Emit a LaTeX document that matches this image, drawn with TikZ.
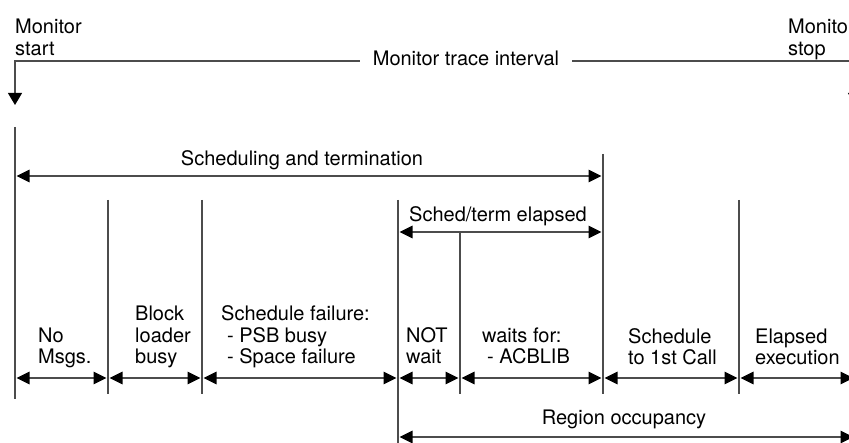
\documentclass[tikz,border=0pt]{standalone}
\usepackage{fontspec}
\setmainfont{TeX Gyre Heros}
\usetikzlibrary{arrows.meta}

\tikzset{
  rule/.style={draw=black!70, line width=1.1pt},
  dim/.style={rule, shorten <=1.5pt, shorten >=1.5pt,
    {Triangle[length=13pt,width=12.5pt,color=black]}-{Triangle[length=13pt,width=12.5pt,color=black]}},
  down/.style={rule, -{Triangle[length=12pt,width=14pt,color=black]}},
  lbl/.style={inner sep=0pt, align=left, anchor=base west, font=\fontsize{20}{21.5}\selectfont},
  ttl/.style={inner sep=0pt, anchor=base, font=\fontsize{20}{21.5}\selectfont},
}

\begin{document}
\begin{tikzpicture}[x=1pt,y=-1pt]
  \useasboundingbox (0,0) rectangle (849,443);

  \coordinate (start) at (15,61);
  \coordinate (startend) at (15,105);
  \coordinate (stop) at (855,61);
  \coordinate (stopend) at (855,105);
  \coordinate (rsched) at (0,176);
  \coordinate (relapsed) at (0,232);
  \coordinate (rregion) at (0,437);
  \coordinate (b0) at (15,378);
  \coordinate (b1) at (108,378);
  \coordinate (b2) at (202,378);
  \coordinate (b3) at (398,378);
  \coordinate (b4) at (460,378);
  \coordinate (b5) at (603,378);
  \coordinate (b6) at (739,378);
  \coordinate (b7) at (855,378);

  \node[lbl] (mstart) at (15,55.5) {Monitor\\start};
  \node[lbl] (mstop) at (788,55.5) {Monitor\\stop};
  \node[ttl, inner xsep=13pt] (trace) at (466,66) {Monitor trace interval};
  \node[ttl] (schterm) at (302,166) {Scheduling and termination};
  \node[ttl] (schelapsed) at (498,222) {Sched/term elapsed};
  \node[ttl] (region) at (624,425) {Region occupancy};

  \node[lbl] (nomsgs) at (38,364) {No\\Msgs.};
  \node[lbl] (blkbusy) at (135,364) {Block\\loader\\busy};
  \node[lbl] (schfail) at (221,364) {Schedule failure:\\\hspace*{6pt}- PSB busy\\\hspace*{6pt}- Space failure};
  \node[lbl] (notwait) at (406,364) {NOT\\wait};
  \node[lbl] (waitsfor) at (482,364) {waits for:\\\hspace*{5pt}- ACBLIB};
  \node[lbl] (firstcall) at (628,365) {Schedule\\to 1st Call};
  \node[lbl] (elapsed) at (755,365) {Elapsed\\execution};

  \draw[down] (trace.west |- start) -- (start) -- (startend);
  \draw[down] (trace.east |- stop) -- (stop) -- (stopend);

  \draw[rule] (15,127) -- (15,399);
  \draw[rule] (108,200) -- (108,394);
  \draw[rule] (202,200) -- (202,394);
  \draw[rule] (398,200) -- (398,450);
  \draw[rule] (460,232) -- (460,394);
  \draw[rule] (603,154) -- (603,394);
  \draw[rule] (739,200) -- (739,394);

  \draw[dim] (b0 |- rsched) -- (b5 |- rsched);
  \draw[dim] (b3 |- relapsed) -- (b5 |- relapsed);
  \draw[dim] (b3 |- rregion) -- (b7 |- rregion);
  \foreach \a/\b in {b0/b1,b1/b2,b2/b3,b3/b4,b4/b5,b5/b6,b6/b7}
    \draw[dim] (\a) -- (\b);
\end{tikzpicture}
\end{document}
